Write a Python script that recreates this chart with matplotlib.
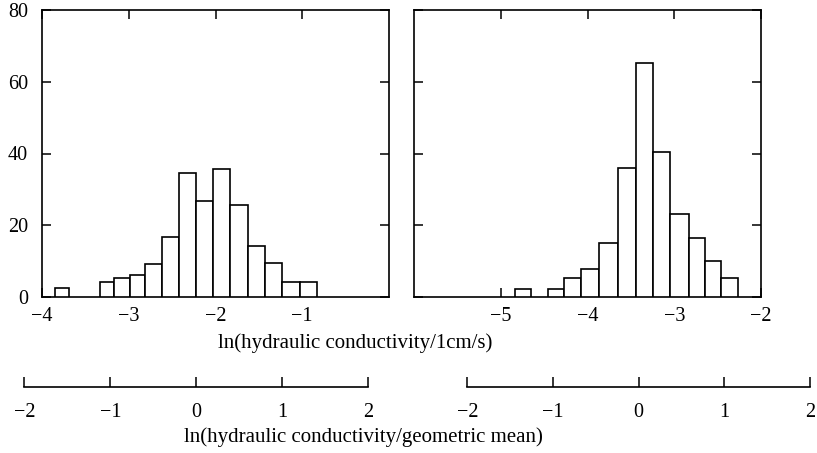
import matplotlib
matplotlib.use("Agg")
import matplotlib.pyplot as plt
import numpy as np

plt.rcParams["font.family"] = ["Liberation Serif", "DejaVu Serif"]
plt.rcParams["font.size"] = 14

# left panel: bin edges (ln K / 1cm/s) and counts
left_lo = [-3.85, -3.33, -3.17, -2.99, -2.81, -2.62, -2.42, -2.23, -2.03,
           -1.83, -1.63, -1.43, -1.23, -1.03]
left_hi = [-3.69, -3.17, -2.99, -2.81, -2.62, -2.42, -2.23, -2.03, -1.83,
           -1.63, -1.43, -1.23, -1.03, -0.83]
left_counts = [2.5, 4.3, 5.3, 6.1, 9.1, 16.8, 34.7, 26.7, 35.6, 25.6, 14.3, 9.6, 4.2, 4.2]

# right panel
right_lo = [-4.84, -4.45, -4.27, -4.08, -3.87, -3.65, -3.44, -3.25, -3.05,
            -2.83, -2.65, -2.46]
right_hi = [-4.65, -4.27, -4.08, -3.87, -3.65, -3.44, -3.25, -3.05, -2.83,
            -2.65, -2.46, -2.27]
right_counts = [2.2, 2.2, 5.2, 7.8, 15.0, 36.0, 65.2, 40.4, 23.0, 16.4, 10.0, 5.2]

left_xlim = (-4, 0)
right_xlim = (-6, -2)
left_xticks = [-4, -3, -2, -1]
right_xticks = [-5, -4, -3, -2]
yticks = [0, 20, 40, 60, 80]
gm_ticks = [-2, -1, 0, 1, 2]

xlabel_top = "ln(hydraulic conductivity/1cm/s)"
xlabel_bottom = "ln(hydraulic conductivity/geometric mean)"

W, H = 817, 453
fig = plt.figure(figsize=(W / 100, H / 100), dpi=100)


def frac(x0, y0, x1, y1):
    return [x0 / W, 1 - y1 / H, (x1 - x0) / W, (y1 - y0) / H]


ax1 = fig.add_axes(frac(42, 10, 389, 297))
ax2 = fig.add_axes(frac(414, 10, 761, 297))

for ax, lo, hi, cnt, xl, xt in [(ax1, left_lo, left_hi, left_counts, left_xlim, left_xticks),
                                (ax2, right_lo, right_hi, right_counts, right_xlim, right_xticks)]:
    lo = np.array(lo)
    hi = np.array(hi)
    ax.bar(lo, cnt, width=hi - lo, align="edge", facecolor="white",
           edgecolor="black", linewidth=1.2, zorder=3)
    ax.set_xlim(*xl)
    ax.set_ylim(0, 80)
    ax.set_xticks(xt)
    ax.set_yticks(yticks)
    ax.tick_params(direction="in", length=6.5, width=1.1, top=True, right=True,
                   labelsize=14.5, color="black")
    ax.tick_params(axis="x", pad=7.5)
    ax.tick_params(axis="y", pad=10)
    for s in ax.spines.values():
        s.set_linewidth(1.2)

ax2.set_yticklabels([])

fig.text(355 / W, 1 - 343 / H, xlabel_top, ha="center", va="center", fontsize=15)

# lower scale axes (ln K / geometric mean)
for x0, x1 in [(24.3, 368.3), (467.3, 810)]:
    axg = fig.add_axes(frac(x0, 377, x1, 387.3))
    axg.set_xlim(-2, 2)
    axg.set_xticks(gm_ticks)
    axg.set_yticks([])
    for side in ["top", "left", "right"]:
        axg.spines[side].set_visible(False)
    axg.spines["bottom"].set_linewidth(1.2)
    axg.patch.set_visible(False)
    axg.tick_params(axis="x", direction="in", length=7.5, width=1.1, pad=11,
                    labelsize=14.5)

fig.text(363 / W, 1 - 437 / H, xlabel_bottom, ha="center", va="center", fontsize=15)

fig.savefig("out.png", dpi=100)
